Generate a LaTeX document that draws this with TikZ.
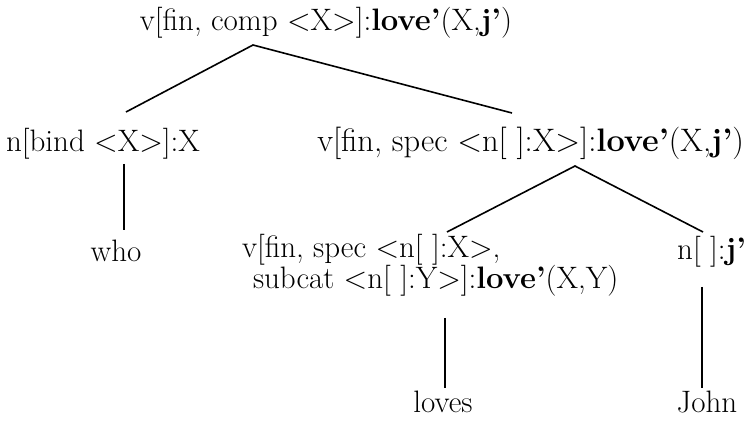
\documentclass[tikz,border=0pt]{standalone}
\usepackage{fontspec}
\begin{document}
\begin{tikzpicture}[x=1pt,y=-1pt,
  lbl/.style={inner sep=0pt,outer sep=0pt,font=\fontsize{31}{30}\selectfont},
  wide/.style={font=\fontsize{32.5}{30}\selectfont},
  branch/.style={line width=1.6pt}]
\useasboundingbox (0,0) rectangle (748,422);

% categories and words
\node[lbl,anchor=base] (root) at (326,31) {v[fin, comp <X>]:\textbf{love’}(X,\textbf{j’})};
\node[lbl,anchor=base west] (bind) at (6,152) {n[bind <X>]:X};
\node[lbl,wide,anchor=base east] (vspec) at (744,152) {v[fin, spec <n[ ]:X>]:\textbf{love’}(X,\textbf{j’})};
\node[lbl,anchor=base] (who) at (116,262) {who};
\node[lbl,anchor=base west,align=left] (vsub) at (242,289)
  {v[fin, spec <n[ ]:X>,\\\hspace*{11pt}subcat <n[ ]:Y>]:\textbf{love’}(X,Y)};
\node[lbl,anchor=base east] (nj) at (746,260) {n[ ]:\textbf{j’}};
\node[lbl,anchor=base] (loves) at (443,413) {loves};
\node[lbl,anchor=base] (john) at (707,413) {John};

% attachment points of the branches
\coordinate (rootJ) at (253,45);
\coordinate (bindT) at (126,112);
\coordinate (vspecT) at (512,113);
\coordinate (bindB) at (124,164);
\coordinate (whoT) at (124,230);
\coordinate (vspecJ) at (575,166);
\coordinate (vsubT) at (447,232);
\coordinate (njT) at (703,232);
\coordinate (vsubB) at (445,318);
\coordinate (lovesT) at (445,388);
\coordinate (njB) at (702,287);
\coordinate (johnT) at (702,388);

% branches
\draw[branch] (bindT) -- (rootJ) -- (vspecT);
\draw[branch] (bindB) -- (whoT);
\draw[branch] (vsubT) -- (vspecJ) -- (njT);
\draw[branch] (vsubB) -- (lovesT);
\draw[branch] (njB) -- (johnT);
\end{tikzpicture}
\end{document}
